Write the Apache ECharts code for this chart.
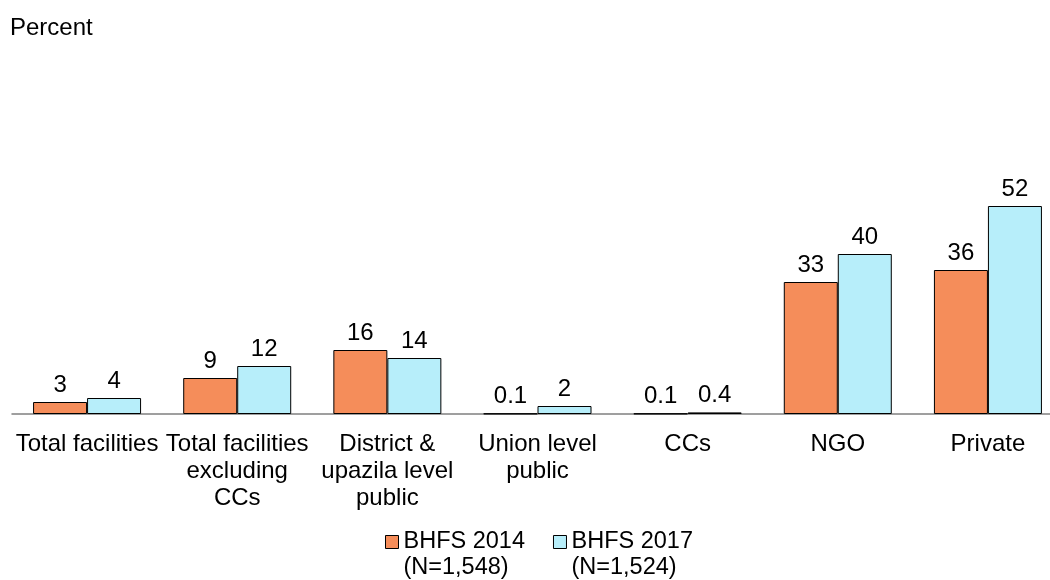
<!DOCTYPE html>
<html>
<head>
<meta charset="utf-8">
<script src="https://cdn.jsdelivr.net/npm/echarts@6/dist/echarts.min.js"></script>
<style>
  html, body { margin: 0; padding: 0; background: #fff; }
  #chart { width: 1050px; height: 580px; }
</style>
</head>
<body>
<div id="chart"></div>
<script>
// data
const categories = [
  'Total facilities',
  'Total facilities\nexcluding\nCCs',
  'District &\nupazila level\npublic',
  'Union level\npublic',
  'CCs',
  'NGO',
  'Private'
]
const seriesNames = ['BHFS 2014', 'BHFS 2017']
const sampleSizes = ['(N=1,548)', '(N=1,524)']
const values2014 = [3, 9, 16, 0.1, 0.1, 33, 36]
const values2017 = [4, 12, 14, 2, 0.4, 40, 52]

const colors = ['#F58D5A', '#B7EEFA']
const font = 'Liberation Sans, Arial, sans-serif'

const chart = echarts.init(document.getElementById('chart'))

const makeSeries = (name, data, color) => ({
  name: name,
  type: 'bar',
  data: data,
  barWidth: 54,
  barGap: '0%',
  itemStyle: { color: color, borderColor: '#000', borderWidth: 1 },
  label: {
    show: true,
    position: 'top',
    distance: 5,
    color: '#000',
    fontFamily: font,
    fontSize: 24
  }
})

chart.setOption({
  animation: false,
  title: {
    text: 'Percent',
    left: 10,
    top: 16,
    padding: 0,
    textStyle: { fontFamily: font, fontSize: 24, fontWeight: 'normal', color: '#000' }
  },
  grid: { left: 12, width: 1051, top: 174, height: 240, outerBoundsMode: 'none' },
  xAxis: {
    type: 'category',
    data: categories,
    axisLine: { lineStyle: { color: '#808080', width: 1.5 } },
    axisTick: { show: false },
    axisLabel: {
      interval: 0,
      margin: 17,
      color: '#000',
      fontFamily: font,
      fontSize: 24,
      lineHeight: 27
    }
  },
  yAxis: {
    type: 'value',
    min: 0,
    max: 60,
    show: false,
    splitLine: { show: false }
  },
  legend: {
    left: 385,
    top: 503,
    padding: 0,
    itemWidth: 13,
    itemHeight: 13,
    itemGap: 28,
    icon: 'rect',
    itemStyle: { borderColor: '#000', borderWidth: 1 },
    // blank first line keeps the icon level with the series name
    formatter: name => '\n' + name + '\n' + sampleSizes[seriesNames.indexOf(name)],
    textStyle: {
      fontFamily: font,
      fontSize: 23.5,
      lineHeight: 26,
      color: '#000'
    },
    data: seriesNames
  },
  series: [
    makeSeries(seriesNames[0], values2014, colors[0]),
    makeSeries(seriesNames[1], values2017, colors[1])
  ]
})
</script>
</body>
</html>
